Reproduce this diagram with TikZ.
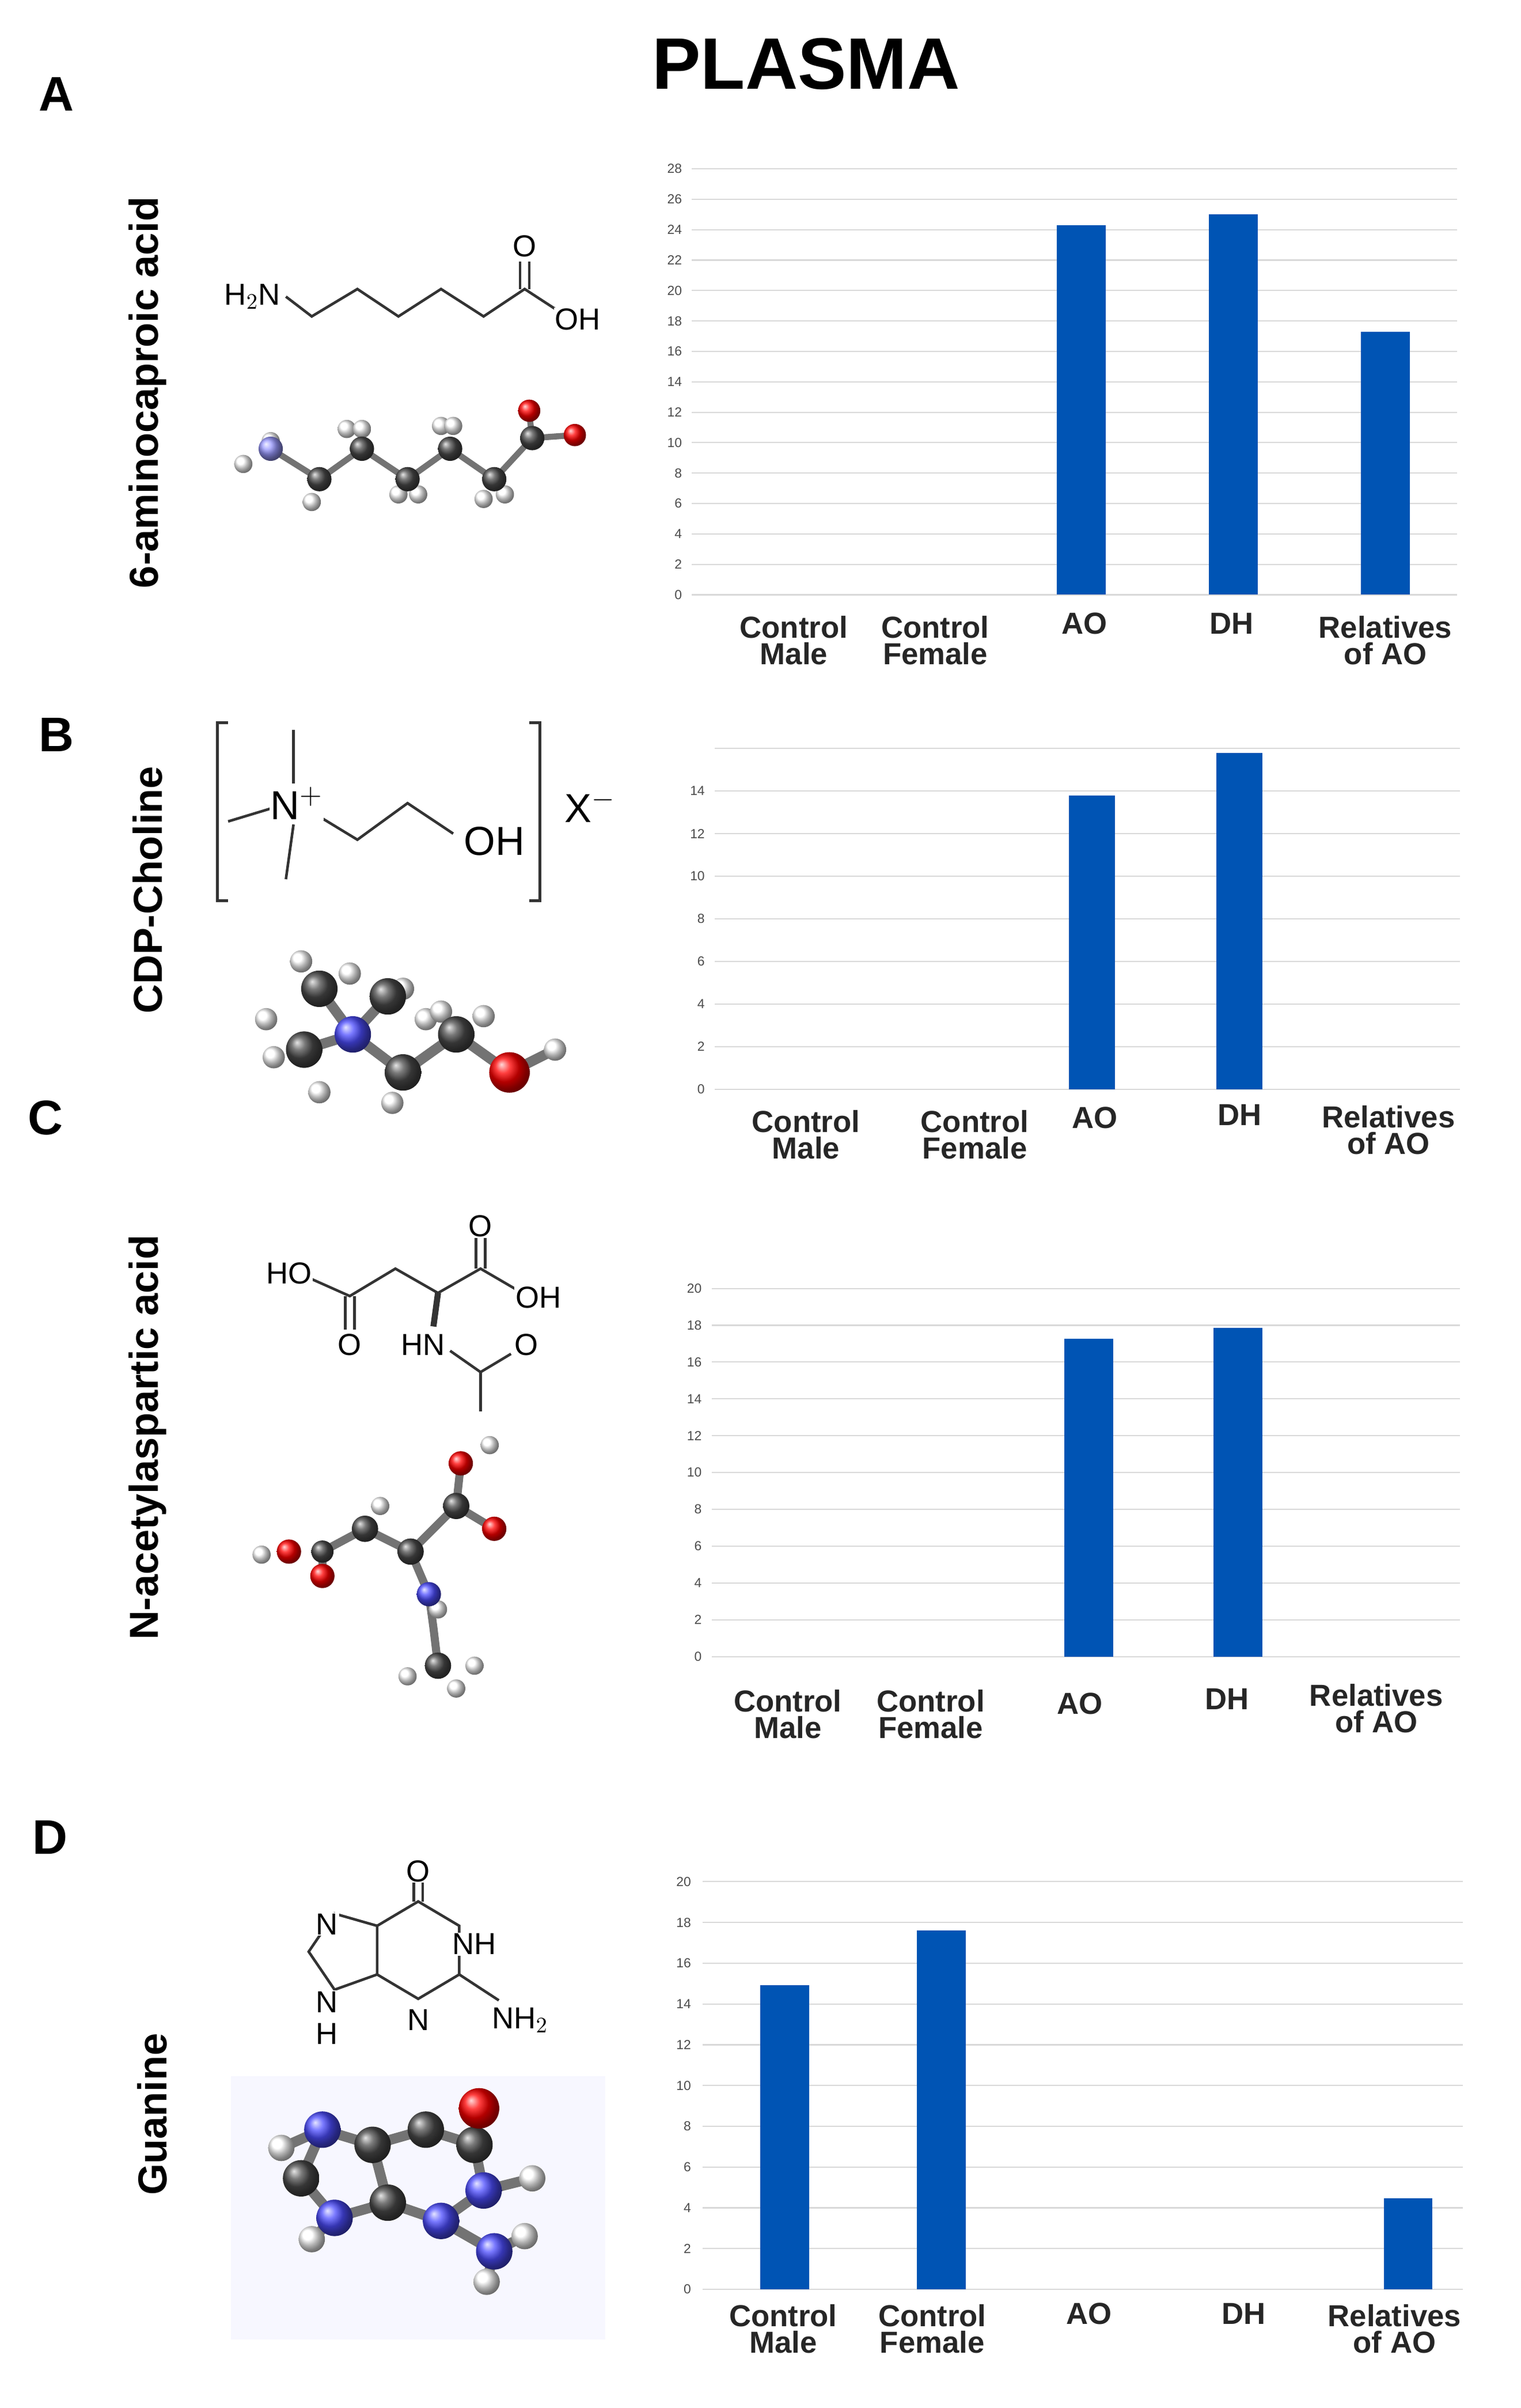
\documentclass[tikz,border=0pt]{standalone}
\usepackage{fontspec}
\setmainfont{Liberation Sans}
\begin{document}
\begin{tikzpicture}[x=0.02641cm,y=-0.02641cm,
  grid/.style={draw=black!15,line width=0.6pt},
  tick/.style={font=\fontsize{6.5}{7}\selectfont,text=black!70,anchor=east,inner sep=1pt},
  cat/.style={font=\bfseries\fontsize{15}{13}\selectfont,align=center,text=black!85},
  letter/.style={font=\bfseries\fontsize{24}{24}\selectfont},
  title/.style={font=\bfseries\fontsize{20}{20}\selectfont,rotate=90},
  bond/.style={line width=1.3pt,black!80},
  atom/.style={font=\fontsize{15}{15}\selectfont,fill=white,inner sep=0.5pt},
  stick/.style={line width=3pt,black!55},
  cball/.style={ball color=black!70,circle,inner sep=0pt,minimum size=14pt},
  hball/.style={ball color=white,circle,inner sep=0pt,minimum size=9pt},
  oball/.style={ball color=red,circle,inner sep=0pt,minimum size=13pt},
  nball/.style={ball color=blue!70,circle,inner sep=0pt,minimum size=14pt}]
\useasboundingbox (0,0) rectangle (1000,1583);
\definecolor{barblue}{RGB}{0,84,180}
\tikzset{bar/.style={fill=barblue,draw=none}}
\node[font=\bfseries\fontsize{36}{36}\selectfont] (plasma) at (530,42) {PLASMA};
\node[letter] (la) at (37,62) {A};
\node[letter] (lb) at (37,483) {B};
\node[letter] (lc) at (30,735) {C};
\node[letter] (ld) at (33,1208) {D};
\node[title] (ta) at (97,258) {6-aminocaproic acid};
\node[title] (tb) at (97,585) {CDP-Choline};
\node[title] (tc) at (97,945) {N-acetylaspartic acid};
\node[title] (td) at (100,1390) {Guanine};
% ---------- chart A
\foreach \v in {0,2,...,28}{\draw[grid] (455,391-10*\v) -- (958,391-10*\v);
  \node[tick] at (450,391-10*\v) {\v};}
\fill[bar] (695,391) rectangle (727,148);
\fill[bar] (795,391) rectangle (827,141);
\fill[bar] (895,391) rectangle (927,218);
\node[cat] at (522,421) {Control\\Male};
\node[cat] at (615,421) {Control\\Female};
\node[cat] at (713,410) {AO};
\node[cat] at (810,410) {DH};
\node[cat] at (911,421) {Relatives\\of AO};
% ---------- chart B
\foreach \v in {0,2,...,14}{\draw[grid] (470,716-14*\v) -- (960,716-14*\v);
  \node[tick] at (465,716-14*\v) {\v};}
\draw[grid] (470,492) -- (960,492);
\fill[bar] (703,716) rectangle (733,523);
\fill[bar] (800,716) rectangle (830,495);
\node[cat] at (530,746) {Control\\Male};
\node[cat] at (641,746) {Control\\Female};
\node[cat] at (720,735) {AO};
\node[cat] at (815,733) {DH};
\node[cat] at (913,743) {Relatives\\of AO};
% ---------- chart C
\foreach \v in {0,2,...,20}{\draw[grid] (468,1089-12.1*\v) -- (960,1089-12.1*\v);
  \node[tick] at (463,1089-12.1*\v) {\v};}
\fill[bar] (700,1089) rectangle (732,880);
\fill[bar] (798,1089) rectangle (830,873);
\node[cat] at (518,1127) {Control\\Male};
\node[cat] at (612,1127) {Control\\Female};
\node[cat] at (710,1120) {AO};
\node[cat] at (807,1117) {DH};
\node[cat] at (905,1123) {Relatives\\of AO};
% ---------- chart D
\foreach \v in {0,2,...,20}{\draw[grid] (462,1505-13.4*\v) -- (962,1505-13.4*\v);
  \node[tick] at (456,1505-13.4*\v) {\v};}
\fill[bar] (500,1505) rectangle (532,1305);
\fill[bar] (603,1505) rectangle (635,1269);
\fill[bar] (910,1505) rectangle (942,1445);
\node[cat] at (515,1531) {Control\\Male};
\node[cat] at (613,1531) {Control\\Female};
\node[cat] at (716,1521) {AO};
\node[cat] at (818,1521) {DH};
\node[cat] at (917,1531) {Relatives\\of AO};
% ---------- molecule A skeletal
\draw[bond] (188,195) -- (205,208) -- (235,190) -- (262,208) -- (290,190) -- (318,208) -- (345,190) -- (368,205);
\draw[bond] (342,190) -- (342,172); \draw[bond] (348,190) -- (348,172);
\node[atom] (an) at (166,195) {H$_2$N};
\node[atom] (ao) at (345,162) {O};
\node[atom] (aoh) at (380,210) {OH};
% ball-stick A
\draw[stick] (178,295) -- (210,315) -- (238,295) -- (268,315) -- (296,295) -- (325,315) -- (350,288) -- (378,286);
\draw[stick] (350,288) -- (348,272);
\foreach \p in {(160,305),(178,290),(205,330),(228,282),(238,282),(262,325),(275,325),(290,280),(298,280),(318,328),(332,325)} \node[hball] at \p {};
\node[circle,ball color=blue!40,inner sep=0pt,minimum size=12pt] (an1) at (178,295) {};
\foreach \p in {(210,315),(238,295),(268,315),(296,295),(325,315),(350,288)} \node[cball,minimum size=12pt] at \p {};
\node[oball,minimum size=11pt] at (348,270) {};
\node[oball,minimum size=11pt] at (378,286) {};
% ---------- molecule B skeletal
\draw[bond] (150,475) -- (143,475) -- (143,592) -- (150,592);
\draw[bond] (348,475) -- (355,475) -- (355,592) -- (348,592);
\draw[bond] (193,480) -- (193,515);
\draw[bond] (150,540) -- (183,530);
\draw[bond] (193,542) -- (188,578);
\draw[bond] (207,535) -- (235,552) -- (268,528) -- (298,548);
\node[atom] (bn) at (195,528) {\fontsize{20}{20}\selectfont N$^+$};
\node[atom] (boh) at (325,553) {\fontsize{20}{20}\selectfont OH};
\node[font=\fontsize{20}{20}\selectfont] (bx) at (388,530) {X$^-$};
% ball-stick B
\draw[stick,line width=5pt] (200,690) -- (232,680) -- (210,650) (232,680) -- (255,655) (232,680) -- (265,705) -- (300,680) -- (335,705) -- (365,690);
\foreach \p in {(175,670),(180,695),(210,718),(198,632),(230,640),(265,650),(280,670),(258,725),(290,665),(318,668),(365,690)} \node[hball,minimum size=11pt] at \p {};
\foreach \p in {(200,690),(210,650),(255,655),(265,705),(300,680)} \node[cball,minimum size=18pt] at \p {};
\node[nball,minimum size=18pt] at (232,680) {};
\node[oball,minimum size=20pt] at (335,705) {};
% ---------- molecule C skeletal
\draw[bond] (203,840) -- (230,852) -- (260,834) -- (288,850) -- (316,834) -- (340,848);
\draw[bond] (227,852) -- (227,874); \draw[bond] (233,852) -- (233,874);
\draw[bond] (313,834) -- (313,814); \draw[bond] (319,834) -- (319,814);
\draw[bond,line width=3pt] (288,850) -- (285,872);
\draw[bond] (296,888) -- (316,902) -- (336,890);
\draw[bond] (316,902) -- (316,928);
\node[atom] (cho) at (190,837) {HO};
\node[atom] (co1) at (230,884) {O};
\node[atom] (co2) at (316,806) {O};
\node[atom] (coh) at (354,853) {OH};
\node[atom] (chn) at (278,884) {HN};
\node[atom] (co3) at (346,884) {O};
% ball-stick C
\draw[stick,line width=4pt] (212,1020) -- (240,1005) -- (270,1020) -- (300,990) -- (325,1005);
\draw[stick,line width=4pt] (300,990) -- (303,962) (212,1020) -- (212,1036) (270,1020) -- (282,1048) -- (285,1070) -- (288,1095);
\foreach \p in {(172,1022),(250,990),(322,950),(288,1058),(268,1102),(300,1110),(312,1095)} \node[hball] at \p {};
\foreach \p in {(240,1005),(270,1020),(300,990),(288,1095)} \node[cball,minimum size=13pt] at \p {};
\node[cball,minimum size=11pt] at (212,1020) {};
\foreach \p in {(212,1036),(190,1020),(303,962),(325,1005)} \node[oball,minimum size=12pt] at \p {};
\node[nball,minimum size=12pt] at (282,1048) {};
% ---------- molecule D skeletal
\draw[bond] (275,1250) -- (302,1266) -- (302,1298) -- (275,1314) -- (248,1298) -- (248,1266) -- cycle;
\draw[bond] (248,1266) -- (220,1258) -- (203,1283) -- (220,1308) -- (248,1298);
\draw[bond] (272,1250) -- (272,1236); \draw[bond] (278,1250) -- (278,1236);
\draw[bond] (302,1298) -- (328,1315);
\node[atom] (do) at (275,1230) {O};
\node[atom] (dn1) at (312,1278) {NH};
\node[atom] (dn3) at (275,1328) {N};
\node[atom] (dn7) at (215,1265) {N};
\node[atom] (dn9) at (215,1316) {N};
\node[atom] (dh9) at (215,1337) {H};
\node[atom] (dnh2) at (342,1328) {NH$_2$};
% ball model D
\fill[blue!3] (152,1365) rectangle (398,1538);
\draw[stick,line width=5pt]
  (245,1410) -- (280,1400) -- (312,1410) -- (318,1440) -- (290,1460) -- (255,1448) -- cycle
  (245,1410) -- (212,1400) -- (198,1432) -- (220,1458) -- (255,1448)
  (312,1410) -- (315,1388) (318,1440) -- (350,1432) (290,1460) -- (325,1480) -- (345,1470) (325,1480) -- (320,1500) (212,1400) -- (185,1412) (220,1458) -- (205,1472);
\foreach \p in {(185,1412),(205,1472),(350,1432),(345,1470),(320,1500)} \node[hball,minimum size=13pt] at \p {};
\foreach \p in {(245,1410),(280,1400),(255,1448),(198,1432),(312,1410)} \node[cball,minimum size=18pt] at \p {};
\foreach \p in {(212,1400),(220,1458),(318,1440),(290,1460),(325,1480)} \node[nball,minimum size=18pt] at \p {};
\node[oball,minimum size=20pt] at (315,1386) {};
\end{tikzpicture}
\end{document}
